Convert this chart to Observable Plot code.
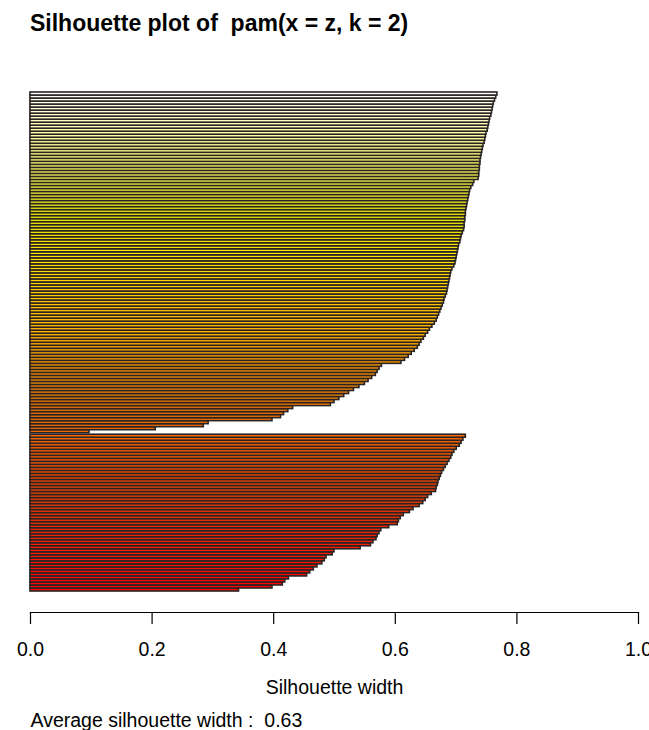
<!DOCTYPE html>
<html>
<head>
<meta charset="utf-8">
<script src="https://cdn.jsdelivr.net/npm/d3@7"></script>
<script src="https://cdn.jsdelivr.net/npm/@observablehq/plot@0.6"></script>
<style>
  html, body { margin: 0; padding: 0; background: #fff; overflow: hidden; }
  #title { height: 50px; box-sizing: border-box; padding: 12px 0 0 30px; font: bold 23px "Liberation Sans", Arial, sans-serif; line-height: 23px; white-space: pre; color: #000; }
</style>
</head>
<body>
<div id="title"></div>
<div id="chart"></div>
<script>
// ---- data ----
const titleText = "Silhouette plot of  pam(x = z, k = 2)";
const xLabel = "Silhouette width";
const avgLabel = "Average silhouette width :\u00a0 0.63";
const tickValues = [0, 0.2, 0.4, 0.6, 0.8, 1.0];

// cluster 1 silhouette widths, sorted from top bar downwards
const cluster1 = [
  0.768,0.766,0.764,0.762,0.761,0.760,0.759,0.758,0.756,0.755,
  0.754,0.753,0.752,0.750,0.749,0.748,0.747,0.745,0.744,0.743,
  0.742,0.741,0.740,0.740,0.739,0.739,0.738,0.738,0.737,0.730,
  0.728,0.725,0.723,0.722,0.721,0.720,0.719,0.718,0.717,0.716,
  0.716,0.715,0.715,0.714,0.714,0.713,0.711,0.709,0.708,0.707,
  0.705,0.704,0.703,0.702,0.701,0.700,0.699,0.697,0.694,0.692,
  0.691,0.690,0.689,0.688,0.687,0.686,0.685,0.683,0.681,0.680,
  0.678,0.676,0.674,0.672,0.670,0.668,0.665,0.661,0.657,0.654,
  0.650,0.647,0.643,0.640,0.637,0.632,0.627,0.622,0.616,0.610,
  0.578,0.574,0.571,0.568,0.562,0.556,0.550,0.541,0.532,0.524,
  0.516,0.508,0.500,0.494,0.432,0.424,0.417,0.412,0.398,0.293,
  0.285,0.206,0.097
];
// cluster 2 silhouette widths, sorted from top bar downwards
const cluster2 = [
  0.716,0.712,0.709,0.706,0.701,0.697,0.694,0.692,0.689,0.686,
  0.683,0.680,0.677,0.675,0.673,0.671,0.670,0.668,0.667,0.660,
  0.654,0.650,0.646,0.640,0.630,0.624,0.614,0.609,0.606,0.604,
  0.590,0.577,0.574,0.571,0.569,0.564,0.560,0.543,0.500,0.497,
  0.487,0.484,0.480,0.472,0.466,0.460,0.455,0.425,0.419,0.415,
  0.398,0.343
];

// ---- R's heat.colors(n) palette ----
function heatColors(n) {
  const j = Math.floor(n / 4), i = n - j, out = [];
  for (let k = 0; k < i; k++) {
    const h = i > 1 ? (k / (i - 1)) / 6 : 0;
    out.push(d3.rgb(255, Math.round(255 * 6 * h), 0).formatHex());
  }
  for (let k = 0; k < j; k++) {
    const s0 = 1 - 1 / (2 * j), s1 = 1 / (2 * j);
    const s = j > 1 ? s0 + (s1 - s0) * k / (j - 1) : s0;
    out.push(d3.rgb(255, 255, Math.round(255 * (1 - s))).formatHex());
  }
  return out;
}

document.getElementById("title").textContent = titleText;

const obs = [
  ...cluster1.map(w => ({cluster: 1, w})),
  ...cluster2.map(w => ({cluster: 2, w}))
].reverse(); // bottom bar first, like R's barplot
const n = obs.length;
const cols = heatColors(n);
const rows = obs.map((d, k) => ({
  ...d,
  y1: k + (d.cluster === 1 ? 0.5 : 0),
  y2: k + 1 + (d.cluster === 1 ? 0.5 : 0),
  col: cols[k]
}));

const chart = Plot.plot({
  width: 649,
  height: 680,
  marginLeft: 30,
  marginRight: 11,
  marginTop: 0,
  marginBottom: 118,
  x: {domain: [0, 1]},
  y: {domain: [0, n + 0.5], range: [541, 42], axis: null},
  color: {type: "identity"},
  style: {fontFamily: "'Liberation Sans', Arial, sans-serif", fontSize: "19.5px", background: "#fff", color: "#000", overflow: "hidden"},
  marks: [
    Plot.rect(rows, {x1: 0, x2: "w", y1: "y1", y2: "y2", fill: "col", stroke: "#2a2424", strokeWidth: 1.6}),
    Plot.frame({anchor: "bottom", stroke: "#000", strokeWidth: 1.2}),
    Plot.axisX({ticks: tickValues, tickFormat: d3.format(".1f"), tickSize: 12, tickPadding: 18, fontSize: 19.5, label: null, strokeWidth: 1.2}),
    Plot.text([xLabel], {text: d => d, frameAnchor: "bottom", dy: 81, lineAnchor: "bottom", fontSize: 19.5}),
    Plot.text([avgLabel], {text: d => d, frameAnchor: "bottom-left", textAnchor: "start", dy: 114.5, lineAnchor: "bottom", fontSize: 19.5})
  ]
});
document.getElementById("chart").appendChild(chart);
</script>
</body>
</html>
